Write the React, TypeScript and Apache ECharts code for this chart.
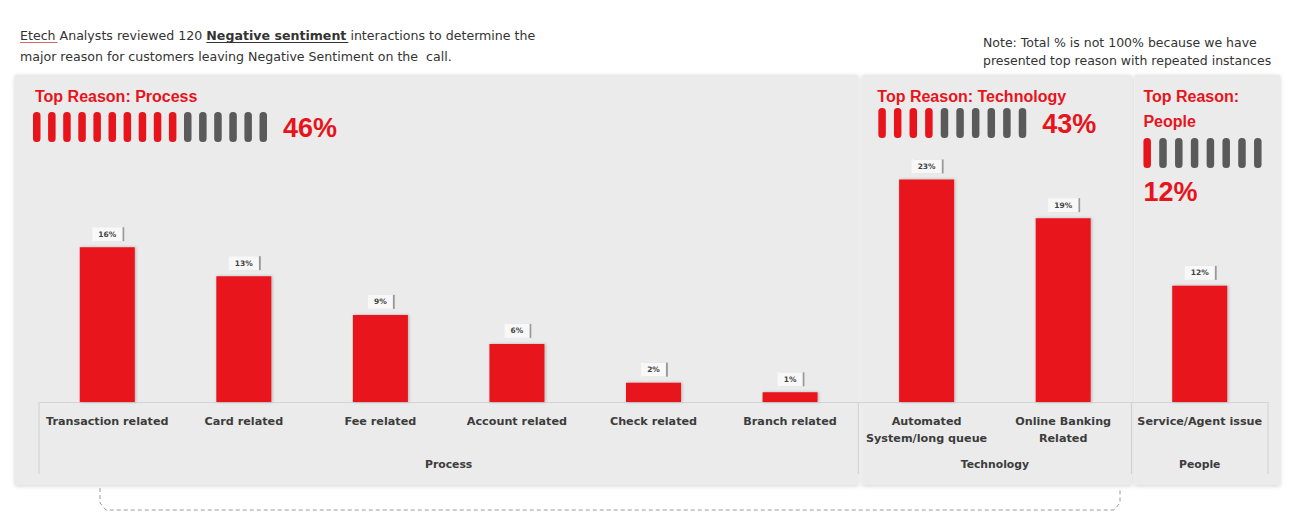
import React, { useEffect, useRef } from "react";
import * as echarts from "echarts";

const categories = [
  "Transaction related",
  "Card related",
  "Fee related",
  "Account related",
  "Check related",
  "Branch related",
  "Automated\nSystem/long queue",
  "Online Banking\nRelated",
  "Service/Agent issue",
];
const values = [16, 13, 9, 6, 2, 1, 23, 19, 12];
const groupNames = ["Process", "Technology", "People"];
const groupSizes = [6, 2, 1];
const groupTotals = [46, 43, 12];
const groupTitles = ["Top Reason: Process", "Top Reason: Technology", "Top Reason:\nPeople"];
const pillsFilled = [10, 4, 1];
const pillsTotal = [16, 10, 8];
const headerPieces1 = [
  { text: "Etech", bold: false, underline: "#d46a6a" },
  { text: " Analysts reviewed 120 ", bold: false, underline: "" },
  { text: "Negative sentiment", bold: true, underline: "#333" },
  { text: " interactions to determine the", bold: false, underline: "" },
];
const headerLine2 = "major reason for customers leaving Negative Sentiment on the  call.";
const noteLines = [
  "Note: Total % is not 100% because we have",
  "presented top reason with repeated instances",
];

const RED = "#e8141c";
const GRAY = "#5a5a5a";
const FONT = "Liberation Sans";
const HFONT = "DejaVu Sans";
const HEADER_SIZE = 12.6;
const AXFONT = "DejaVu Sans";

function measure(text: string, bold: boolean, size: number) {
  const c = document.createElement("canvas").getContext("2d")!;
  c.font = `${bold ? "bold " : ""}${size}px '${HFONT}'`;
  return c.measureText(text).width;
}

export default function App() {
  const ref = useRef<HTMLDivElement>(null);
  useEffect(() => {
    document.body.style.margin = "0";
    const chart = echarts.init(ref.current!, null, { renderer: "svg" });
    const option: any = {
      animation: false,
      backgroundColor: "#ffffff",
      grid: { left: 39, right: 31, top: 102, bottom: 112 },
      xAxis: {
        type: "category",
        data: categories,
        axisLine: { lineStyle: { color: "#d4d4d4" } },
        axisTick: { show: false },
        axisLabel: {
          interval: 0,
          margin: 11,
          fontFamily: AXFONT,
          fontSize: 11.2,
          fontWeight: "bold",
          color: "#3c3c3c",
          lineHeight: 17,
        },
        z: 5,
      },
      yAxis: { type: "value", min: 0, max: 31, show: false, splitLine: { show: false } },
      series: [
        {
          type: "bar",
          data: values,
          barWidth: 55,
          itemStyle: {
            color: RED,
            shadowColor: "rgba(0,0,0,0.25)",
            shadowBlur: 3,
            shadowOffsetX: 1,
          },
          label: {
            show: true,
            position: "top",
            distance: 6,
            formatter: "{c}%",
            fontFamily: AXFONT,
            fontSize: 7.5,
            fontWeight: "bold",
            color: "#444",
            backgroundColor: "#f8f8f8",
            padding: [3, 6, 3, 6],
            shadowColor: "rgba(0,0,0,0.35)",
            shadowBlur: 1,
            shadowOffsetX: 2,
          },
          z: 5,
        },
      ],
    };
    chart.setOption(option);

    const cx = (i: number) => chart.convertToPixel({ xAxisIndex: 0 }, i) as number;
    const band = cx(1) - cx(0);
    const base = chart.convertToPixel({ yAxisIndex: 0 }, 0) as number;
    const boundaries: number[] = [cx(0) - band / 2];
    let acc = 0;
    groupSizes.forEach((s) => {
      acc += s;
      boundaries.push(cx(acc - 1) + band / 2);
    });

    const panelTop = 75;
    const panelBottom = 485;
    const panelLefts = [boundaries[0] - 24, boundaries[1] + 4, boundaries[2] + 3];
    const panelRights = [boundaries[1], boundaries[2], boundaries[3] + 12];
    const titleOffsets = [20, 15, 9];
    const pillOffsets = [18, 16, 9];
    const pillTops = [112, 108, 138];
    const pillSpacing = [15.1, 15.6, 15.8];
    const pctPos = [
      { dx: 268, y: 128 },
      { dx: 180, y: 124 },
      { dx: 9, y: 192 },
    ];

    const g: any[] = [];
    groupNames.forEach((_, k) => {
      g.push({
        type: "rect",
        z: -10,
        shape: { x: panelLefts[k], y: panelTop, width: panelRights[k] - panelLefts[k], height: panelBottom - panelTop },
        style: { fill: "#ebebeb", shadowColor: "rgba(0,0,0,0.18)", shadowBlur: 4, shadowOffsetY: 1 },
      });
    });
    boundaries.forEach((b) => {
      g.push({
        type: "line",
        z: 1,
        shape: { x1: b, y1: base, x2: b, y2: base + 72 },
        style: { stroke: "#d0d0d0", lineWidth: 1 },
      });
    });
    let start = 0;
    groupNames.forEach((name, k) => {
      const end = start + groupSizes[k] - 1;
      const mid = (cx(start) + cx(end)) / 2;
      g.push({
        type: "text",
        z: 6,
        x: mid,
        y: base + 62,
        style: { text: name, fontFamily: AXFONT, fontSize: 10.8, fontWeight: "bold", fill: "#3c3c3c", align: "center", verticalAlign: "middle" },
      });
      start += groupSizes[k];
      const tx = panelLefts[k] + titleOffsets[k];
      g.push({
        type: "text",
        z: 6,
        x: tx,
        y: 84,
        style: {
          text: groupTitles[k],
          fontFamily: FONT,
          fontSize: 16,
          fontWeight: "bold",
          fill: RED,
          lineHeight: 25,
          align: "left",
          verticalAlign: "top",
        },
      });
      const px = panelLefts[k] + pillOffsets[k];
      for (let p = 0; p < pillsTotal[k]; p++) {
        g.push({
          type: "rect",
          z: 6,
          shape: { x: px + p * pillSpacing[k], y: pillTops[k], width: 7.5, height: 30, r: 3.5 },
          style: { fill: p < pillsFilled[k] ? RED : GRAY },
        });
      }
      g.push({
        type: "text",
        z: 6,
        x: panelLefts[k] + pctPos[k].dx,
        y: pctPos[k].y,
        style: {
          text: `${groupTotals[k]}%`,
          fontFamily: FONT,
          fontSize: 27,
          fontWeight: "bold",
          fill: RED,
          align: "left",
          verticalAlign: "middle",
        },
      });
    });

    let hx = 20;
    const hy = 35;
    headerPieces1.forEach((p) => {
      const w = measure(p.text, p.bold, HEADER_SIZE);
      g.push({
        type: "text",
        z: 6,
        x: hx,
        y: hy,
        style: {
          text: p.text,
          fontFamily: HFONT,
          fontSize: HEADER_SIZE,
          fontWeight: p.bold ? "bold" : "normal",
          fill: "#333",
          align: "left",
          verticalAlign: "middle",
        },
      });
      if (p.underline) {
        const lead = p.text.length - p.text.trimStart().length;
        const offs = lead ? measure(" ", p.bold, HEADER_SIZE) * lead : 0;
        g.push({
          type: "line",
          z: 6,
          shape: { x1: hx + offs, y1: hy + 7.5, x2: hx + w + 2, y2: hy + 7.5 },
          style: { stroke: p.underline, lineWidth: 1 },
        });
      }
      hx += w;
    });
    g.push({
      type: "text",
      z: 6,
      x: 20,
      y: 56,
      style: { text: headerLine2, fontFamily: HFONT, fontSize: HEADER_SIZE, fill: "#333", align: "left", verticalAlign: "middle" },
    });
    noteLines.forEach((t, i) => {
      g.push({
        type: "text",
        z: 6,
        x: 983,
        y: 42 + i * 18,
        style: { text: t, fontFamily: HFONT, fontSize: 12.5, fill: "#333", align: "left", verticalAlign: "middle" },
      });
    });

    const bl = 100;
    const br = 1120;
    g.push({
      type: "polyline",
      z: 1,
      shape: {
        points: [
          [bl, panelBottom + 3],
          [bl, panelBottom + 18],
          [bl + 6, panelBottom + 25],
          [br - 6, panelBottom + 25],
          [br, panelBottom + 18],
          [br, panelBottom + 3],
        ],
      },
      style: { stroke: "#9a9a9a", lineWidth: 1, lineDash: [4, 3], fill: "none" },
    });

    chart.setOption({ graphic: g });
    return () => chart.dispose();
  }, []);
  return <div ref={ref} style={{ position: "absolute", left: 0, top: 0, width: 1299, height: 514 }} />;
}
